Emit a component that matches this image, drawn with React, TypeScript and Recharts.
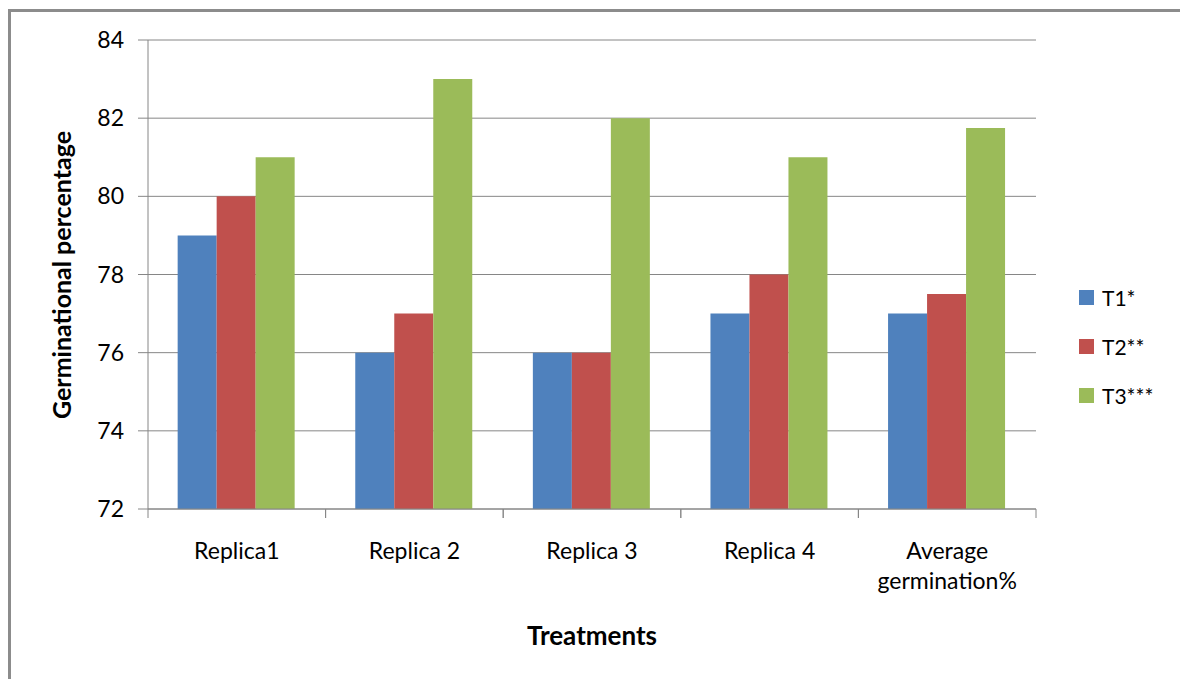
import { Bar, BarChart, CartesianGrid, XAxis, YAxis } from "recharts";

const categories = ["Replica1", "Replica 2", "Replica 3", "Replica 4", "Average germination%"];
const t1Values = [79, 76, 76, 77, 77];
const t2Values = [80, 77, 76, 78, 77.5];
const t3Values = [81, 83, 82, 81, 81.75];
const yTicks = [72, 74, 76, 78, 80, 82, 84];

const seriesNames = ["T1*", "T2**", "T3***"];
const seriesColors = ["#4F81BD", "#C0504D", "#9BBB59"];

const data = categories.map((name, i) => ({
  name,
  t1: t1Values[i],
  t2: t2Values[i],
  t3: t3Values[i],
}));

const FONT = "Lato, 'Open Sans', sans-serif";
const AXIS = "#868686";
const BAND = (1036 - 148) / categories.length;

function CategoryTick(props: any) {
  const { x, y, payload } = props;
  const label: string = payload.value;
  const lines = label === "Average germination%" ? ["Average", "germination%"] : [label];
  const top = 509;
  return (
    <g>
      <line x1={x - BAND / 2} y1={top} x2={x - BAND / 2} y2={top + 9} stroke={AXIS} />
      <line x1={x + BAND / 2} y1={top} x2={x + BAND / 2} y2={top + 9} stroke={AXIS} />
      <text x={x} y={y} textAnchor="middle" fill="#000" fontSize={23} fontFamily={FONT}>
        {lines.map((line, i) => (
          <tspan key={line} x={x} dy={i === 0 ? 42 : 30}>
            {line}
          </tspan>
        ))}
      </text>
    </g>
  );
}

function LegendBox() {
  return (
    <div style={{ position: "absolute", left: 1079, top: 273, fontFamily: FONT, fontSize: 21, color: "#000" }}>
      {seriesNames.map((name, i) => (
        <div key={name} style={{ display: "flex", alignItems: "center", height: 49 }}>
          <span style={{ width: 15, height: 15, background: seriesColors[i], marginRight: 8 }} />
          {name}
        </div>
      ))}
    </div>
  );
}

export default function App() {
  return (
    <div style={{ position: "absolute", left: 0, top: 0, width: 1180, height: 679, overflow: "hidden", background: "#fff" }}>
      <div
        style={{
          position: "absolute",
          left: 8,
          top: 9,
          width: 1200,
          height: 700,
          borderTop: "3px solid #8c8c8c",
          borderLeft: "3px solid #8c8c8c",
        }}
      />
      <div style={{ position: "absolute", left: 0, top: 0 }}>
        <BarChart
          width={1180}
          height={679}
          data={data}
          margin={{ top: 40, right: 144, left: 68, bottom: 70 }}
          barCategoryGap="16.7%"
          barGap={0}
        >
          <CartesianGrid vertical={false} stroke={AXIS} strokeWidth={1} />
          <XAxis
            dataKey="name"
            stroke={AXIS}
            tickLine={false}
            interval={0}
            height={100}
            tick={<CategoryTick />}
            label={{
              content: () => (
                <text x={592} y={645} textAnchor="middle" fontSize={26} fontWeight="bold" fontFamily={FONT} fill="#000">
                  Treatments
                </text>
              ),
            }}
          />
          <YAxis
            domain={[72, 84]}
            ticks={yTicks}
            width={80}
            stroke={AXIS}
            tickSize={10}
            tickMargin={14}
            tick={{ fill: "#000", fontSize: 23, fontFamily: FONT }}
            label={{
              content: () => (
                <text
                  x={61}
                  y={275}
                  transform="rotate(-90 61 275)"
                  textAnchor="middle"
                  dominantBaseline="central"
                  fontSize={25}
                  fontWeight="bold"
                  fontFamily={FONT}
                  fill="#000"
                >
                  Germinational percentage
                </text>
              ),
            }}
          />
          <Bar dataKey="t1" name={seriesNames[0]} fill={seriesColors[0]} isAnimationActive={false} />
          <Bar dataKey="t2" name={seriesNames[1]} fill={seriesColors[1]} isAnimationActive={false} />
          <Bar dataKey="t3" name={seriesNames[2]} fill={seriesColors[2]} isAnimationActive={false} />
        </BarChart>
      </div>
      <LegendBox />
    </div>
  );
}
